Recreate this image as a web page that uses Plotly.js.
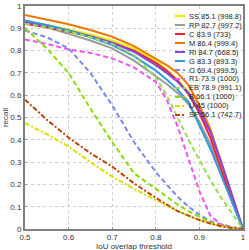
<!DOCTYPE html>
<html>
<head>
<meta charset="utf-8">
<script src="https://cdn.plot.ly/plotly-3.0.1.min.js"></script>
<style>html,body{margin:0;padding:0;background:#fff;}#chart{width:249px;height:250px;}</style>
</head>
<body>
<div id="chart"></div>
<script>
// IoU thresholds (x) shared by all series
const thresholds = [0.5,0.55,0.6,0.65,0.7,0.75,0.8,0.825,0.85,0.875,0.9,0.925,0.95,0.975,1.0];

const names  = ["SS","RP","C","M","Ri","G","O","R1","EB","B","U","SP"];
const labels = ["SS 85.1 (998.8)","RP 82.7 (997.2)","C 83.9 (733)","M 86.4 (999.4)","Ri 84.7 (668.5)","G 83.3 (893.3)","O 69.4 (999.5)","R1 73.9 (1000)","EB 78.9 (991.1)","B 66.1 (1000)","U 45 (1000)","SP 56.1 (742.7)"];
const xTitle = "IoU overlap threshold";
const yTitle = "recall";

const recallSS = [0.93,0.915,0.895,0.872,0.845,0.81,0.755,0.715,0.67,0.615,0.54,0.44,0.30,0.15,0];
const recallRP = [0.925,0.905,0.875,0.845,0.81,0.755,0.685,0.65,0.61,0.56,0.48,0.38,0.26,0.13,0];
const recallC  = [0.92,0.905,0.885,0.862,0.835,0.80,0.745,0.71,0.665,0.605,0.52,0.41,0.27,0.125,0];
const recallM  = [0.96,0.94,0.918,0.892,0.862,0.82,0.765,0.735,0.70,0.645,0.555,0.45,0.30,0.15,0];
const recallRi = [0.93,0.91,0.89,0.865,0.835,0.795,0.735,0.70,0.66,0.61,0.535,0.435,0.30,0.15,0];
const recallG  = [0.935,0.915,0.89,0.86,0.825,0.775,0.71,0.67,0.625,0.57,0.465,0.36,0.24,0.12,0];
const recallO  = [0.89,0.86,0.81,0.70,0.555,0.39,0.255,0.20,0.145,0.10,0.065,0.035,0.02,0.008,0];
const recallR1 = [0.85,0.83,0.805,0.79,0.765,0.725,0.66,0.58,0.46,0.31,0.17,0.06,0.02,0.005,0];
const recallEB = [0.92,0.905,0.885,0.86,0.83,0.78,0.68,0.60,0.50,0.40,0.31,0.22,0.14,0.07,0];
const recallB  = [0.90,0.81,0.70,0.54,0.39,0.25,0.18,0.145,0.11,0.08,0.055,0.03,0.015,0.005,0];
const recallU  = [0.475,0.425,0.37,0.30,0.235,0.18,0.13,0.105,0.08,0.06,0.04,0.025,0.012,0.005,0];
const recallSP = [0.58,0.49,0.41,0.34,0.28,0.205,0.14,0.11,0.08,0.06,0.04,0.025,0.012,0.005,0];

const series = [recallSS,recallRP,recallC,recallM,recallRi,recallG,recallO,recallR1,recallEB,recallB,recallU,recallSP];
const colors = ["#e4f000","#9a9a9a","#ee2233","#ee7700","#8844dd","#3399dd","#7788ee","#ee55ee","#99dd55","#88dd00","#dddd00","#bb4411"];
const dashes = ["solid","solid","solid","solid","solid","solid","5px,3px","5px,3px","5px,3px","5px,3px","5px,2px,2px,2px","5px,2px,2px,2px"];

const traces = series.map((y,i)=>({
  x: thresholds, y: y, type:"scatter", mode:"lines", name: labels[i],
  line:{color:colors[i], width:2, dash:dashes[i]}, showlegend:false, hoverinfo:"skip"
}));

// manual compact legend
const W=249,H=250,ml=25,mr=6,mt=6,mb=21;
const pw=W-ml-mr, ph=H-mt-mb;
const px=v=>(v-ml)/pw, py=v=>(H-mb-v)/ph;
const shapes=[], annotations=[];
labels.forEach((lab,i)=>{
  const yy=16+9*i;
  shapes.push({type:"line",xref:"paper",yref:"paper",x0:px(175),x1:px(185),y0:py(yy),y1:py(yy),
    line:{color:colors[i],width:2,dash:dashes[i]}});
  annotations.push({xref:"paper",yref:"paper",x:px(187),y:py(yy),xanchor:"left",yanchor:"middle",
    text:lab,showarrow:false,font:{size:7.5,color:"#222"}});
});
// x-axis title placed just below the tick labels
annotations.push({xref:"paper",yref:"paper",x:0.5,y:py(246),xanchor:"center",yanchor:"middle",
  text:xTitle,showarrow:false,borderpad:0,font:{size:8,color:"#333"}});

const axisCommon = {
  showline:true, mirror:true, linecolor:"#808080", linewidth:2,
  showgrid:true, gridcolor:"#cfcfcf", griddash:"dot", gridwidth:1,
  ticks:"inside", ticklen:2, tickcolor:"#999", zeroline:false,
  tickfont:{size:8,color:"#333"}
};

const layout = {
  width:W, height:H, margin:{l:ml,r:mr,t:mt,b:mb},
  paper_bgcolor:"#fff", plot_bgcolor:"#fff",
  font:{family:"Liberation Sans, Arial, sans-serif", color:"#333"},
  xaxis:Object.assign({}, axisCommon, {range:[0.5,1], tickvals:[0.5,0.6,0.7,0.8,0.9,1], ticktext:["0.5","0.6","0.7","0.8","0.9","1"], automargin:false, ticklabelstandoff:-1}),
  yaxis:Object.assign({}, axisCommon, {range:[0,1], tickvals:[0,0.1,0.2,0.3,0.4,0.5,0.6,0.7,0.8,0.9,1], ticktext:["0","0.1","0.2","0.3","0.4","0.5","0.6","0.7","0.8","0.9","1"],
    title:{text:yTitle, font:{size:8}, standoff:0}, automargin:false}),
  shapes:shapes, annotations:annotations, showlegend:false
};

Plotly.newPlot("chart", traces, layout, {displayModeBar:false, staticPlot:true});
</script>
</body>
</html>
